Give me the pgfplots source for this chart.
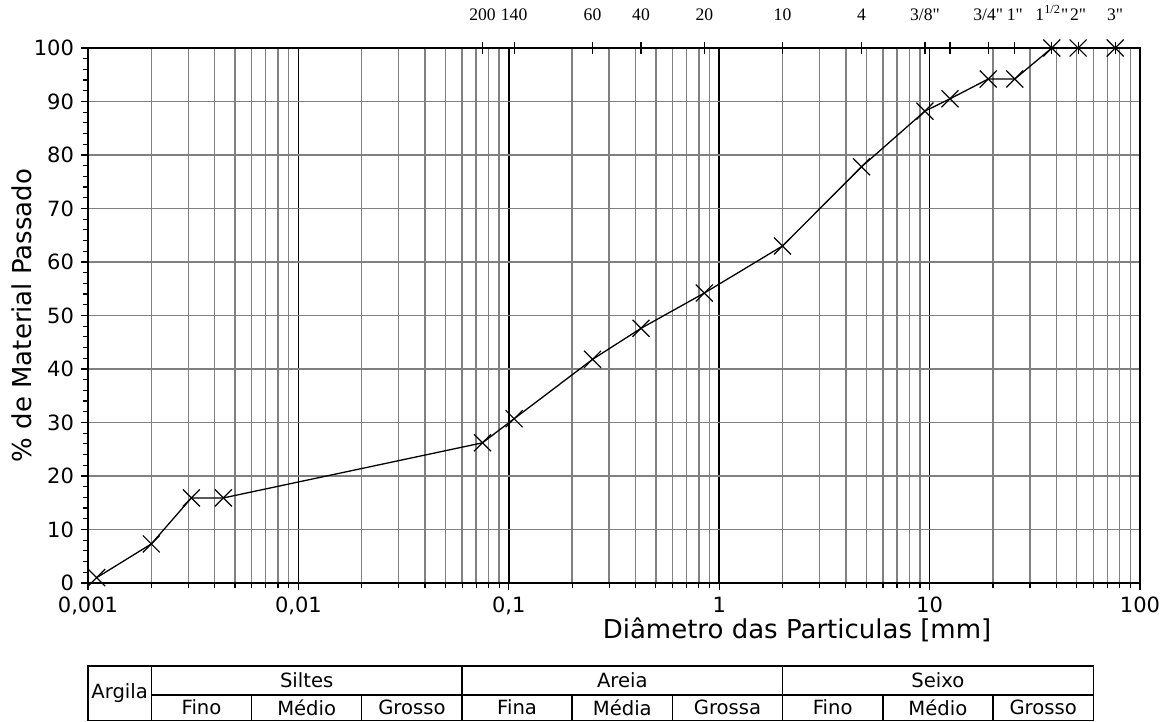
\documentclass[border=0pt]{standalone}
\usepackage{fontspec}
\setmainfont{DejaVu Sans}
\newfontfamily\sievefont{Liberation Serif}
\usepackage{pgfplots}
\pgfplotsset{compat=1.18}
\begin{document}
\begin{tikzpicture}
\useasboundingbox (-44pt,-69.5pt) rectangle (537.5pt,291.5pt);
\begin{axis}[
  at={(0,0)}, anchor=south west,
  width=526pt, height=267.5pt, scale only axis,
  xmode=log, xmin=0.001, xmax=100, ymin=0, ymax=100,
  xtick={0.001,0.01,0.1,1,10,100},
  xticklabels={{0,001},{0,01},{0,1},1,10,100},
  minor xtick={0.002,0.003,0.004,0.005,0.006,0.007,0.008,0.009,
               0.02,0.03,0.04,0.05,0.06,0.07,0.08,0.09,
               0.2,0.3,0.4,0.5,0.6,0.7,0.8,0.9,
               2,3,4,5,6,7,8,9,
               20,30,40,50,60,70,80,90},
  ytick={0,10,...,100},
  minor ytick={2,4,6,8,12,14,16,18,22,24,26,28,32,34,36,38,42,44,46,48,52,54,56,58,62,64,66,68,72,74,76,78,82,84,86,88,92,94,96,98},
  xmajorgrids, xminorgrids, ymajorgrids,
  major x grid style={black, line width=0.75pt},
  minor x grid style={black!50, line width=0.7pt},
  major y grid style={black!50, line width=0.7pt},
  tick align=outside,
  major tick length=3.5pt, minor tick length=2.5pt,
  tick style={black, line width=0.6pt},
  xtick pos=left, ytick pos=left,
  axis line style={black, line width=0.9pt},
  clip=false,
  ticklabel style={font=\fontsize{10.5}{12}\selectfont},
  /pgf/number format/assume math mode=true,
  xlabel={Diâmetro das Particulas [mm]},
  ylabel={\% de Material Passado},
  label style={font=\fontsize{13}{15}\selectfont},
  xlabel style={at={(axis description cs:0.674,-0.088)}, anchor=center},
  ylabel style={at={(axis description cs:-0.0627,0.5)}, anchor=center},
]
\addplot[black, line width=0.65pt, mark=x, mark size=6pt, mark options={line width=0.6pt}] coordinates {
  (0.0011,1.0) (0.002,7.3) (0.0031,15.9) (0.0044,15.9)
  (0.075,26.2) (0.106,30.7) (0.25,41.8) (0.425,47.6) (0.85,54.2)
  (2.0,63.0) (4.75,77.8) (9.5,88.2) (12.5,90.5) (19,94.2) (25.4,94.2)
  (38.1,100) (50.8,100) (76.2,100)
};
% classification table
\draw[line width=0.75pt] (axis cs:0.001,-15.5) rectangle (axis cs:60,-25.7);
\draw[line width=0.75pt] (axis cs:0.002,-15.5) -- (axis cs:0.002,-25.7);
\draw[line width=0.75pt] (axis cs:0.06,-15.5) -- (axis cs:0.06,-25.7);
\draw[line width=0.75pt] (axis cs:2,-15.5) -- (axis cs:2,-25.7);
\draw[line width=0.75pt] (axis cs:0.002,-20.9) -- (axis cs:60,-20.9);
\draw[line width=0.75pt] (axis cs:0.006,-20.9) -- (axis cs:0.006,-25.7);
\draw[line width=0.75pt] (axis cs:0.02,-20.9) -- (axis cs:0.02,-25.7);
\draw[line width=0.75pt] (axis cs:0.2,-20.9) -- (axis cs:0.2,-25.7);
\draw[line width=0.75pt] (axis cs:0.6,-20.9) -- (axis cs:0.6,-25.7);
\draw[line width=0.75pt] (axis cs:6,-20.9) -- (axis cs:6,-25.7);
\draw[line width=0.75pt] (axis cs:20,-20.9) -- (axis cs:20,-25.7);
\begin{scope}[every node/.style={font=\fontsize{9.8}{11}\selectfont, inner sep=0pt}]
\node at (axis cs:0.001414,-20.6) {Argila};
\node at (axis cs:0.01095,-18.2) {Siltes};
\node at (axis cs:0.3464,-18.2) {Areia};
\node at (axis cs:10.95,-18.2) {Seixo};
\node at (axis cs:0.003464,-23.3) {Fino};
\node at (axis cs:0.01095,-23.3) {Médio};
\node at (axis cs:0.03464,-23.3) {Grosso};
\node at (axis cs:0.1095,-23.3) {Fina};
\node at (axis cs:0.3464,-23.3) {Média};
\node at (axis cs:1.095,-23.3) {Grossa};
\node at (axis cs:3.464,-23.3) {Fino};
\node at (axis cs:10.95,-23.3) {Médio};
\node at (axis cs:34.64,-23.3) {Grosso};
\end{scope}
\end{axis}
\begin{axis}[
  at={(0,0)}, anchor=south west,
  width=526pt, height=267.5pt, scale only axis,
  xmode=log, xmin=0.001, xmax=100, ymin=0, ymax=100,
  axis x line*=top, hide y axis,
  xtick={0.075,0.106,0.25,0.425,0.85,2,4.75,9.5,12.5,19,25.4,38.1,50.8,76.2},
  xticklabels={{200},{140},{60},{40},{20},{10},{4},{3/8"},{},{3/4"},{1"},{1\textsuperscript{1/2}"},{2"},{3"}},
  xminorticks=false,
  tick align=center, major tick length=6pt,
  tick style={black, line width=0.6pt},
  axis line style={black, line width=0.9pt},
  xticklabel style={font=\sievefont\fontsize{8.8}{10}\selectfont, yshift=7pt},
]
\addplot[draw=none] coordinates {(1,50)};
\end{axis}
\end{tikzpicture}
\end{document}
